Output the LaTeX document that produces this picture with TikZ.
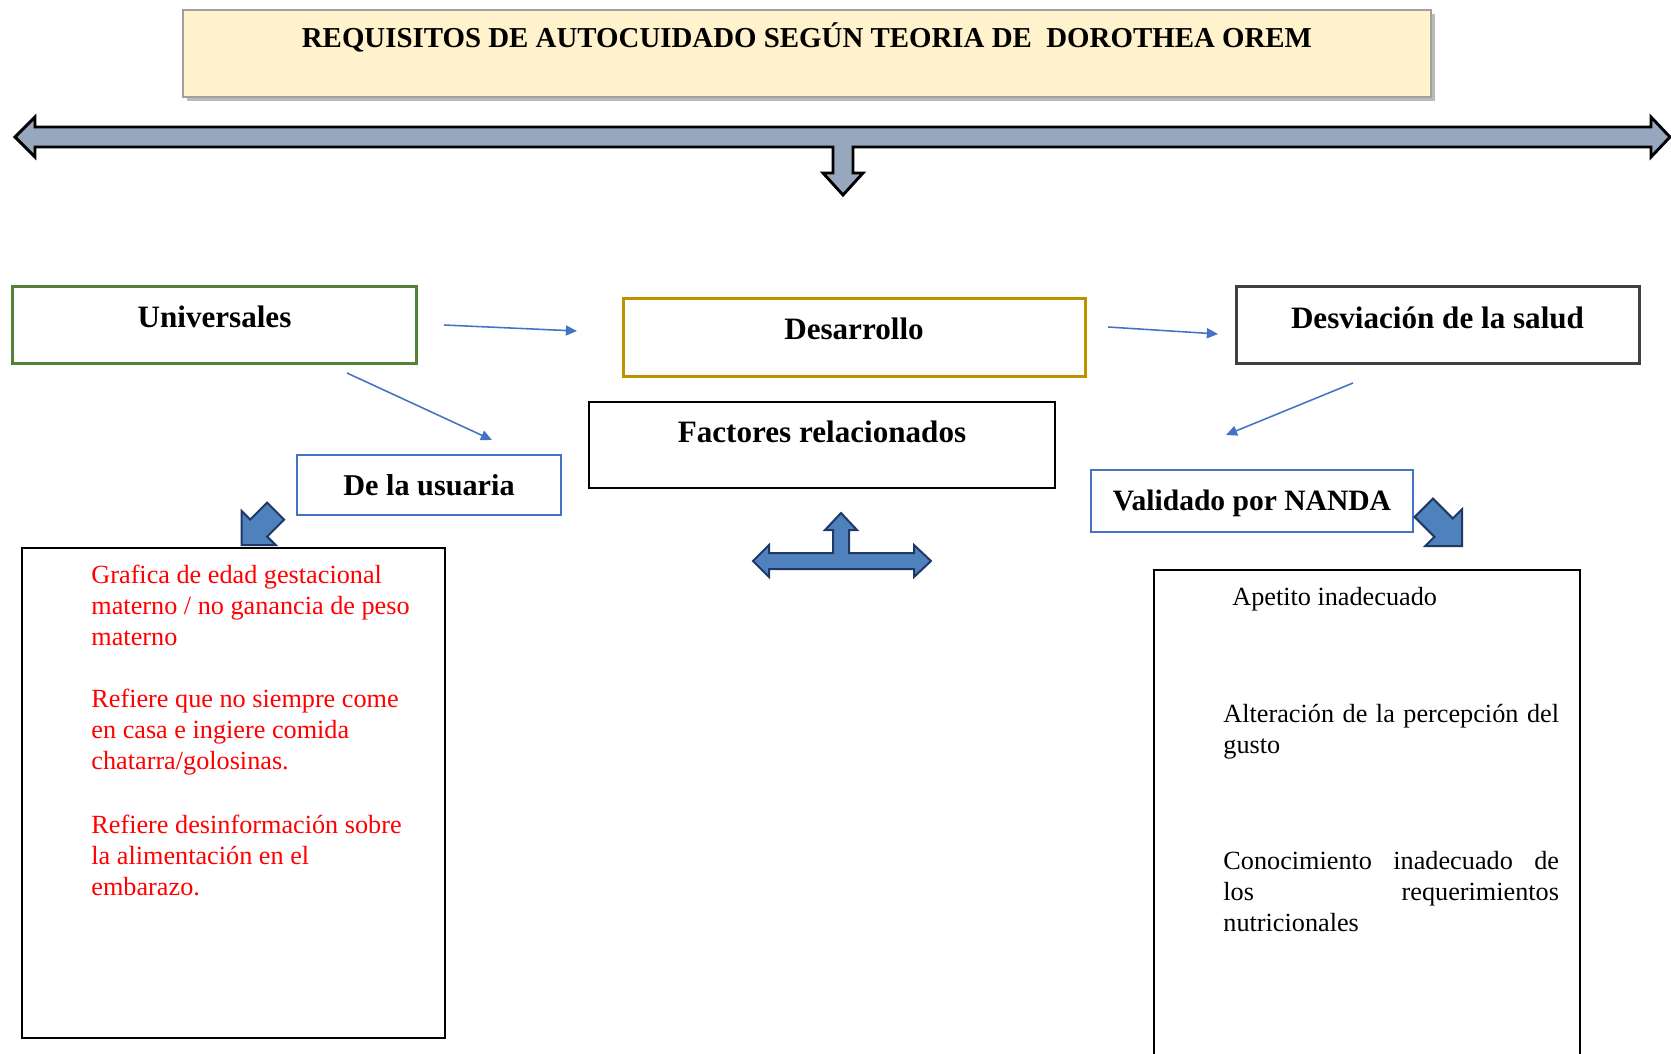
\documentclass[tikz,border=0pt]{standalone}
\usepackage{fontspec}
\setmainfont{Liberation Serif}
\usetikzlibrary{arrows.meta,shadows}
\definecolor{titlefill}{RGB}{255,242,204}
\definecolor{titledraw}{RGB}{160,160,160}
\definecolor{grayarrow}{RGB}{150,167,190}
\definecolor{unigreen}{RGB}{84,130,53}
\definecolor{desgold}{RGB}{191,144,0}
\definecolor{devgray}{RGB}{64,64,64}
\definecolor{linkblue}{RGB}{68,114,196}
\definecolor{blockfill}{RGB}{79,129,189}
\definecolor{blockdraw}{RGB}{31,56,100}
\begin{document}
\begin{tikzpicture}[x=0.45pt,y=-0.45pt,
  labelbox/.style={draw, rectangle, inner sep=0pt, align=center,
    font=\fontsize{14}{16}\selectfont\bfseries, text height=9.3pt},
  textbox/.style={draw=black, line width=0.75pt, rectangle, inner sep=0pt},
  bodytext/.style={inner sep=0pt, align=left, anchor=north west,
    font=\fontsize{11.8}{13.95}\selectfont},
  link/.style={draw=linkblue, line width=0.7pt, -{Triangle[length=5pt,width=4.5pt]}},
  blockarrow/.style={fill=blockfill, draw=blockdraw, line width=0.9pt, line join=miter},
  bigarrow/.style={fill=grayarrow, draw=black, line width=1.3pt, line join=miter}
]
\useasboundingbox (0,0) rectangle (1671,1053);

% title
\node[draw=titledraw, line width=0.8pt, fill=titlefill, rectangle, inner sep=0pt,
  minimum width=561.6pt, minimum height=39.15pt,
  font=\fontsize{13}{15}\selectfont\bfseries, text height=8.5pt, text depth=14pt,
  drop shadow={shadow xshift=2pt, shadow yshift=-2pt, opacity=0.45, fill=black!60}]
  (title) at (807,53.5) {REQUISITOS DE AUTOCUIDADO SEGÚN TEORIA DE~~DOROTHEA OREM};

% big gray double arrow with down stem
\draw[bigarrow] (15,137) -- (35,117) -- (35,127) -- (1651,127) -- (1651,117)
  -- (1670,137) -- (1651,157) -- (1651,147) -- (853,147) -- (853,173) -- (863,173)
  -- (843,195) -- (823,173) -- (833,173) -- (833,147) -- (35,147) -- (35,157) -- cycle;

% main boxes
\node[labelbox, draw=unigreen, line width=1.35pt, minimum width=181.35pt,
  minimum height=34.65pt, text depth=6.2pt] (uni) at (214.5,324.5) {Universales};
\node[labelbox, draw=desgold, line width=1.35pt, minimum width=207.9pt,
  minimum height=35.1pt, text depth=7.2pt] (des) at (854,337) {Desarrollo};
\node[labelbox, draw=devgray, line width=1.35pt, minimum width=181.35pt,
  minimum height=34.65pt, text depth=6pt] (dev) at (1437.5,324.5) {Desviación de la salud};
\node[labelbox, draw=black, line width=0.75pt, minimum width=209.7pt,
  minimum height=38.7pt, text depth=11.7pt] (fac) at (822,445) {Factores relacionados};
\node[labelbox, draw=linkblue, line width=1pt, minimum width=118.8pt,
  minimum height=27pt, text depth=0pt, font=\fontsize{13.6}{16}\selectfont\bfseries]
  (usu) at (429,485) {De la usuaria};
\node[labelbox, draw=linkblue, line width=1pt, minimum width=144.9pt,
  minimum height=27.9pt, text depth=0.5pt, font=\fontsize{13.3}{16}\selectfont\bfseries]
  (nan) at (1252,501) {Validado por NANDA};

% thin connectors
\coordinate (c1s) at (444,325); \coordinate (c1e) at (577,331);
\coordinate (c2s) at (1108,327); \coordinate (c2e) at (1218,334);
\coordinate (c3s) at (347,373); \coordinate (c3e) at (492,440);
\coordinate (c4s) at (1353,383); \coordinate (c4e) at (1226,435);
\draw[link] (c1s) -- (c1e);
\draw[link] (c2s) -- (c2e);
\draw[link] (c3s) -- (c3e);
\draw[link] (c4s) -- (c4e);

% blue block arrows
\begin{scope}[shift={(241.7,545)}, rotate=45]
  \draw[blockarrow] (0,0) -- (24,-24) -- (24,-12) -- (48,-12) -- (48,12) -- (24,12) -- (24,24) -- cycle;
\end{scope}
\begin{scope}[shift={(1462,546)}, rotate=135]
  \draw[blockarrow] (0,0) -- (26,-26) -- (26,-13) -- (54,-13) -- (54,13) -- (26,13) -- (26,26) -- cycle;
\end{scope}
\draw[blockarrow] (753,561) -- (769,545) -- (769,553) -- (833,553) -- (833,530)
  -- (825,530) -- (841,513) -- (857,530) -- (849,530) -- (849,553) -- (914,553)
  -- (914,545) -- (931,561) -- (914,577) -- (914,569) -- (769,569) -- (769,577) -- cycle;

% text boxes
\node[textbox, minimum width=190.35pt, minimum height=220.5pt] (lbox) at (233.5,793) {};
\node[textbox, minimum width=191.7pt, minimum height=220.5pt] (rbox) at (1367,815) {};

\node[bodytext, text=red] (ltext) at (91,565) {Grafica de edad gestacional\\
materno / no ganancia de peso\\
materno\\[13.95pt]
Refiere que no siempre come\\
en casa e ingiere comida\\
chatarra/golosinas.\\[14.85pt]
Refiere desinformación sobre\\
la alimentación en el\\
embarazo.};

\node[bodytext] (rtext) at (1223,587) {\hspace*{4pt}Apetito inadecuado\\[38.7pt]
\hbox to 151pt{Alteración de la percepción del}\\
gusto\\[38.25pt]
\hbox to 151pt{Conocimiento\hfill inadecuado\hfill de}\\
\hbox to 151pt{los\hfill requerimientos}\\
nutricionales};
\end{tikzpicture}
\end{document}
